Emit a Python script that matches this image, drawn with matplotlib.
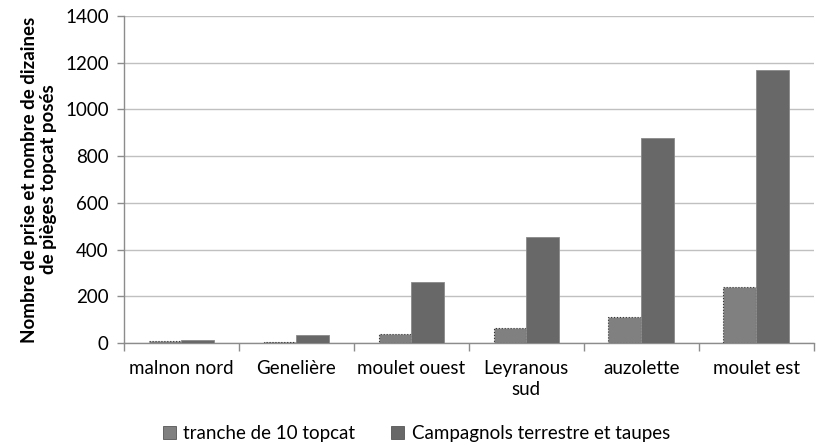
import matplotlib.pyplot as plt
import numpy as np

plt.rcParams['font.family'] = ['Lato', 'DejaVu Sans']

sites = ['malnon nord', 'Genelière', 'moulet ouest', 'Leyranous\nsud', 'auzolette', 'moulet est']
tranche = [7, 3, 38, 63, 113, 240]
campagnols = [12, 36, 260, 456, 878, 1170]

TRANCHE_COLOR = '#808080'
CAMP_COLOR = '#686868'
AXIS_COLOR = '#8c8c8c'

fig = plt.figure(figsize=(8.21, 4.45), dpi=100)
ax = fig.add_axes([0.151, 0.229, 0.84, 0.735])

x = np.arange(len(sites))
w = 0.285
ax.bar(x - w / 2, tranche, w, color=TRANCHE_COLOR, edgecolor='#333333',
       linewidth=0.8, linestyle=':', label='tranche de 10 topcat', zorder=3)
ax.bar(x + w / 2, campagnols, w, color=CAMP_COLOR, edgecolor='#8a8a8a',
       linewidth=0.6, label='Campagnols terrestre et taupes', zorder=3)

ax.set_xlim(-0.5, len(sites) - 0.5)
ax.set_ylim(0, 1400)
ax.set_yticks(range(0, 1401, 200))
ax.yaxis.grid(True, color='#c0c0c0', linewidth=1, zorder=0)

# category labels centered, ticks on category boundaries
ax.set_xticks(x)
ax.set_xticklabels(sites, fontsize=13.5, linespacing=1.3)
ax.tick_params(axis='x', length=0, pad=12)
ax.set_xticks(np.arange(-0.5, len(sites)), minor=True)
ax.tick_params(axis='x', which='minor', length=6, color=AXIS_COLOR, width=1)
ax.tick_params(axis='y', length=5, color=AXIS_COLOR, width=1, labelsize=13.5, pad=6)

for s in ['top', 'right']:
    ax.spines[s].set_visible(False)
for s in ['left', 'bottom']:
    ax.spines[s].set_color(AXIS_COLOR)
    ax.spines[s].set_linewidth(1)

ax.set_ylabel('Nombre de prise et nombre de dizaines\nde pièges topcat posés',
              fontsize=13.5, fontweight='bold', labelpad=6, linespacing=1.15)

leg = ax.legend(loc='lower center', bbox_to_anchor=(0.424, -0.355), ncol=2, frameon=False,
                fontsize=13.5, handlelength=0.7, handleheight=0.7, handletextpad=0.4,
                columnspacing=1.9)
for h in leg.legend_handles:
    h.set_linestyle('-')
    h.set_edgecolor('#555555')
    h.set_linewidth(0.6)

plt.savefig('out.png', dpi=100)
